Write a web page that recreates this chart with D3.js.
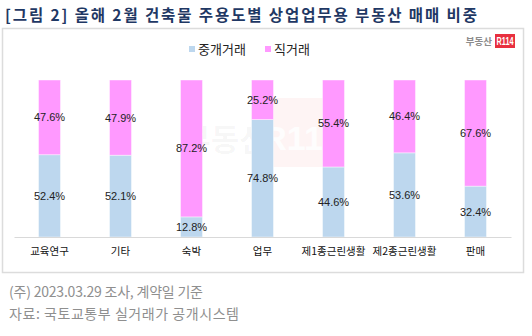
<!DOCTYPE html>
<html>
<head>
<meta charset="utf-8">
<script src="https://cdn.jsdelivr.net/npm/d3@7"></script>
<style>
  html, body { margin: 0; padding: 0; background: #fff; }
  svg { display: block; }
</style>
</head>
<body>
<script>
// Share of commercial/office real-estate sales by main building use (Feb.)
const categories = ["교육연구", "기타", "숙박", "업무", "제1종근린생활", "제2종근린생활", "판매"];
const brokered = [52.4, 52.1, 12.8, 74.8, 44.6, 53.6, 32.4];   // 중개거래
const direct   = [47.6, 47.9, 87.2, 25.2, 55.4, 46.4, 67.6];   // 직거래
const seriesNames = ["중개거래", "직거래"];
const seriesColors = ["#BDD7EE", "#FF99FF"];

const W = 532, H = 336;
const font = "'Noto Sans CJK KR', 'Noto Sans', sans-serif";
const numFont = "'Liberation Sans', Arial, sans-serif";

const svg = d3.select("body").append("svg")
  .attr("width", W).attr("height", H);

// Title
svg.append("text")
  .attr("x", 5).attr("y", 20.5)
  .attr("font-family", font).attr("font-weight", 700)
  .attr("font-size", 15.5).attr("fill", "#1F3864")
  .attr("textLength", 472).attr("lengthAdjust", "spacing")
  .text("[그림 2] 올해 2월 건축물 주용도별 상업업무용 부동산 매매 비중");

// Chart frame
svg.append("rect")
  .attr("x", 2.5).attr("y", 28.5).attr("width", 521).attr("height", 244)
  .attr("fill", "#fff").attr("stroke", "#DCDCDC").attr("stroke-width", 1.5);

// Faint watermark in the plot
const wm = svg.append("g");
wm.append("rect")
  .attr("x", 271).attr("y", 98).attr("width", 63).attr("height", 69)
  .attr("fill", "#F03C4B").attr("fill-opacity", 0.06);
wm.append("text")
  .attr("x", 225).attr("y", 151).attr("text-anchor", "middle")
  .attr("font-family", font).attr("font-weight", 700).attr("font-size", 31)
  .attr("fill", "#000").attr("fill-opacity", 0.04)
  .text("부동산");
wm.append("text")
  .attr("x", 302).attr("y", 150).attr("text-anchor", "middle")
  .attr("font-family", numFont).attr("font-weight", 700).attr("font-size", 34)
  .attr("fill", "#fff").attr("fill-opacity", 0.85)
  .text("R114");

// Logo top right
svg.append("text")
  .attr("x", 492).attr("y", 45).attr("text-anchor", "end")
  .attr("font-family", font).attr("font-weight", 700).attr("font-size", 9.5)
  .attr("fill", "#8C8C8C").text("부동산");
svg.append("rect")
  .attr("x", 495).attr("y", 34).attr("width", 20).attr("height", 14)
  .attr("fill", "#E8303F");
svg.append("text")
  .attr("x", 505).attr("y", 45).attr("text-anchor", "middle")
  .attr("font-family", numFont).attr("font-weight", 700).attr("font-size", 10)
  .attr("fill", "#fff").attr("textLength", 17).attr("lengthAdjust", "spacingAndGlyphs")
  .text("R114");

// Legend
const legendX = [189, 265];
seriesNames.forEach((name, i) => {
  svg.append("rect")
    .attr("x", legendX[i]).attr("y", 46).attr("width", 6).attr("height", 6)
    .attr("fill", seriesColors[i]);
  svg.append("text")
    .attr("x", legendX[i] + 9).attr("y", 54)
    .attr("font-family", font).attr("font-size", 13).attr("fill", "#222")
    .text(name);
});

// Scales
const x = d3.scaleBand().domain(categories).range([14, 511]);
const y = d3.scaleLinear().domain([0, 100]).range([237, 80]);
const barW = 22;

const stackData = categories.map((c, i) => ({ cat: c, b: brokered[i], d: direct[i] }));
const stack = d3.stack().keys(["b", "d"])(stackData);

const layers = svg.append("g").selectAll("g")
  .data(stack).join("g")
  .attr("fill", (d, i) => seriesColors[i]);

layers.selectAll("rect")
  .data(d => d).join("rect")
  .attr("x", d => x(d.data.cat) + x.bandwidth() / 2 - barW / 2)
  .attr("width", barW)
  .attr("y", d => y(d[1]))
  .attr("height", d => y(d[0]) - y(d[1]))
  .attr("stroke", "#fff").attr("stroke-opacity", 0.55).attr("stroke-width", 0.8);

// Value labels, centred in each segment
layers.selectAll("text")
  .data(d => d).join("text")
  .attr("x", d => x(d.data.cat) + x.bandwidth() / 2)
  .attr("y", d => (y(d[0]) + y(d[1])) / 2 + 4)
  .attr("text-anchor", "middle")
  .attr("font-family", numFont).attr("font-size", 11).attr("fill", "#222")
  .text(d => (d[1] - d[0]).toFixed(1) + "%");

// Category axis
const xAxis = svg.append("g")
  .attr("transform", "translate(0,237)")
  .call(d3.axisBottom(x).tickSize(0).tickPadding(11));
xAxis.select(".domain").attr("stroke", "#D9D9D9");
xAxis.selectAll("text")
  .attr("font-family", font).attr("font-size", 10.5).attr("fill", "#111");

// Footnotes
const notes = ["(주) 2023.03.29 조사, 계약일 기준", "자료: 국토교통부 실거래가 공개시스템"];
const noteWidths = [194, 230];
svg.selectAll(".note").data(notes).join("text")
  .attr("class", "note")
  .attr("x", 9).attr("y", (d, i) => 297 + i * 22)
  .attr("font-family", font).attr("font-size", 14).attr("fill", "#8F8F8F")
  .attr("textLength", (d, i) => noteWidths[i]).attr("lengthAdjust", "spacing")
  .text(d => d);
</script>
</body>
</html>
